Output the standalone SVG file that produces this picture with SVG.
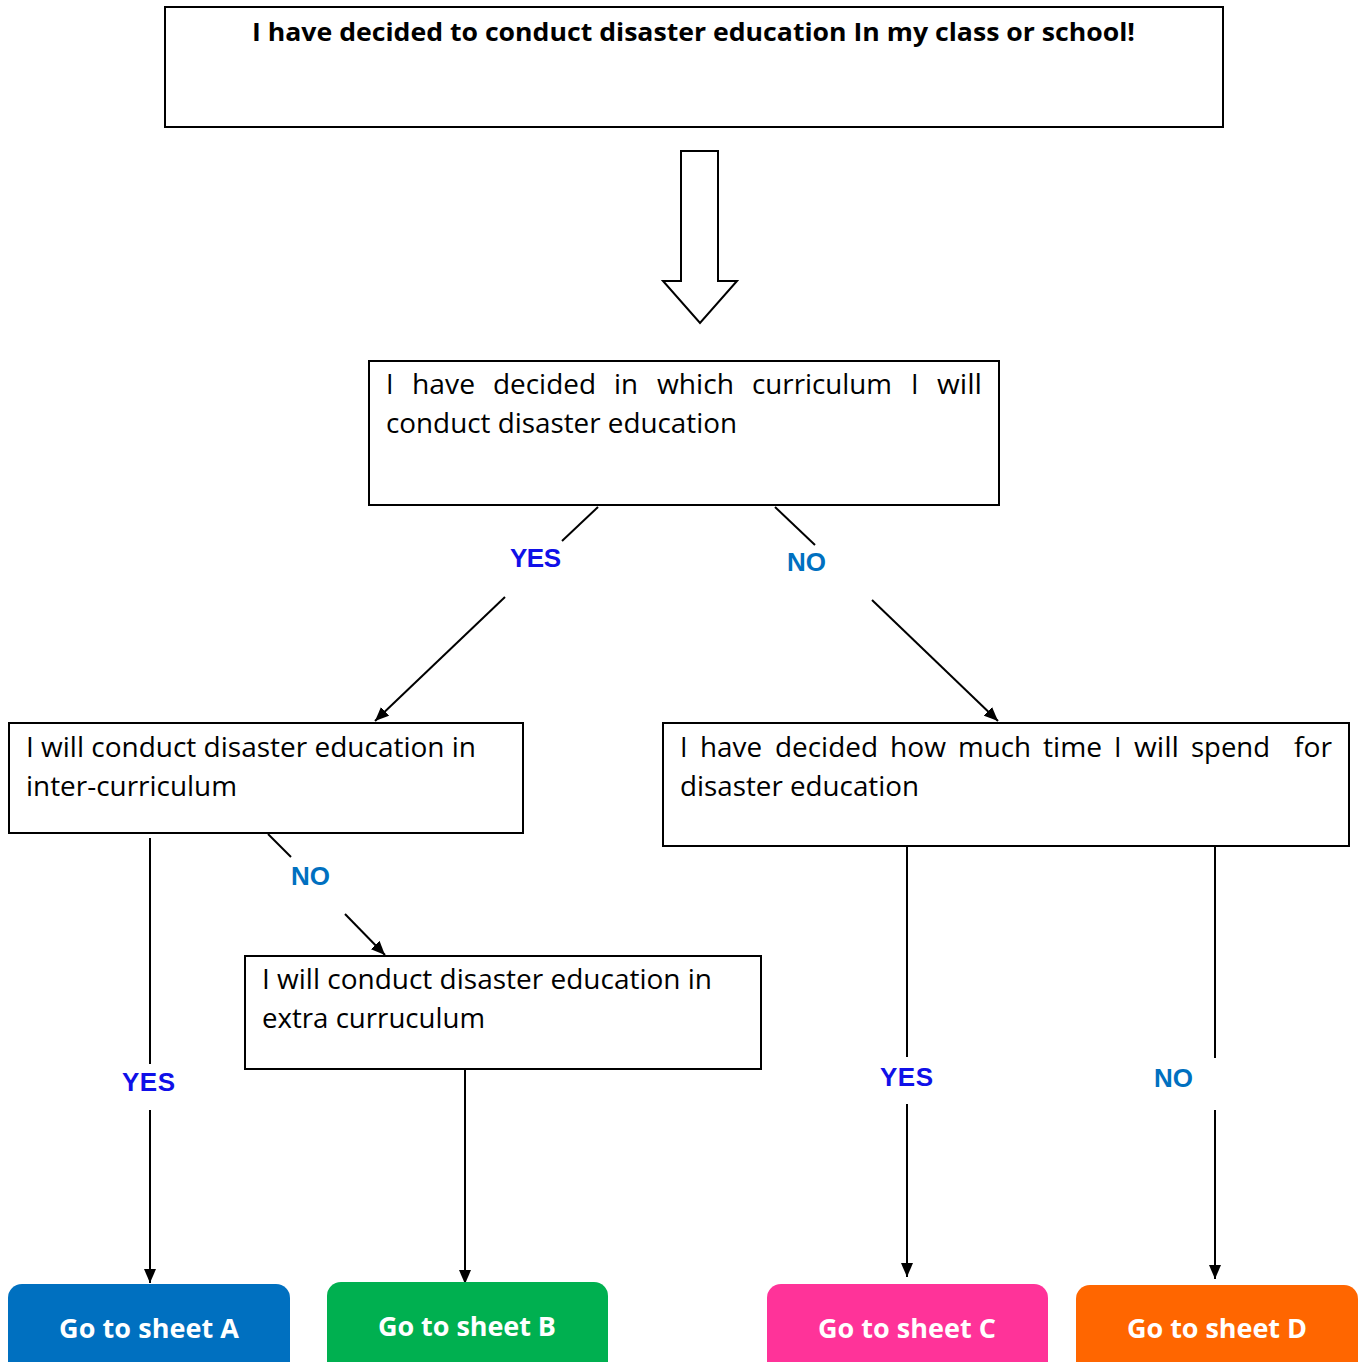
<svg xmlns="http://www.w3.org/2000/svg" width="1363" height="1362" viewBox="0 0 1363 1362">
<defs>
<marker id="ah" markerWidth="14" markerHeight="12" refX="14" refY="6" orient="auto" markerUnits="userSpaceOnUse">
<path d="M0,0 L14,6 L0,12 Z" fill="#000"/>
</marker>
<style>
.box{fill:#fff;stroke:#000;stroke-width:2}
.t{font-family:"Open Sans","Noto Sans",sans-serif;font-size:27px;fill:#000}
.tb{font-family:"Open Sans","Noto Sans",sans-serif;font-size:25px;font-weight:bold;fill:#000}
.ln{stroke:#000;stroke-width:2;fill:none}
.yes{font-family:"Liberation Sans",Arial,sans-serif;font-size:26px;font-weight:bold;fill:#1010E8}
.no{font-family:"Liberation Sans",Arial,sans-serif;font-size:26px;font-weight:bold;fill:#0070C0}
.btn{font-family:"Open Sans","Noto Sans",sans-serif;font-size:27px;font-weight:bold;fill:#fff}
</style>
</defs>
<rect width="1363" height="1362" fill="#fff"/>

<g id="start">
<rect class="box" x="165" y="7" width="1058" height="120"/>
<text class="tb" x="252" y="41" textLength="883" lengthAdjust="spacingAndGlyphs">I have decided to conduct disaster education In my class or school!</text>
</g>

<g id="big-arrow">
<path d="M681,151 L718,151 L718,281 L737,281 L700,323 L663,281 L681,281 Z" fill="#fff" stroke="#000" stroke-width="2"/>
</g>

<g id="q1">
<rect class="box" x="369" y="361" width="630" height="144"/>
<text class="t" y="394" lengthAdjust="spacingAndGlyphs"><tspan x="386">I</tspan></text>
<text class="t" x="412" y="394" textLength="63" lengthAdjust="spacingAndGlyphs">have</text>
<text class="t" x="493" y="394" textLength="103" lengthAdjust="spacingAndGlyphs">decided</text>
<text class="t" x="614" y="394" textLength="24" lengthAdjust="spacingAndGlyphs">in</text>
<text class="t" x="657" y="394" textLength="77" lengthAdjust="spacingAndGlyphs">which</text>
<text class="t" x="752" y="394" textLength="140" lengthAdjust="spacingAndGlyphs">curriculum</text>
<text class="t" x="911" y="394">I</text>
<text class="t" x="937" y="394" textLength="45" lengthAdjust="spacingAndGlyphs">will</text>
<text class="t" x="386" y="433" textLength="351" lengthAdjust="spacingAndGlyphs">conduct disaster education</text>
</g>

<g id="inter">
<rect class="box" x="9" y="723" width="514" height="110"/>
<text class="t" x="26" y="757" textLength="450" lengthAdjust="spacingAndGlyphs">I will conduct disaster education in</text>
<text class="t" x="26" y="796" textLength="211" lengthAdjust="spacingAndGlyphs">inter-curriculum</text>
</g>

<g id="q2">
<rect class="box" x="663" y="723" width="686" height="123"/>
<text class="t" x="680" y="757">I</text>
<text class="t" x="700" y="757" textLength="62" lengthAdjust="spacingAndGlyphs">have</text>
<text class="t" x="775" y="757" textLength="103" lengthAdjust="spacingAndGlyphs">decided</text>
<text class="t" x="890" y="757" textLength="56" lengthAdjust="spacingAndGlyphs">how</text>
<text class="t" x="958" y="757" textLength="73" lengthAdjust="spacingAndGlyphs">much</text>
<text class="t" x="1043" y="757" textLength="59" lengthAdjust="spacingAndGlyphs">time</text>
<text class="t" x="1114" y="757">I</text>
<text class="t" x="1134" y="757" textLength="45" lengthAdjust="spacingAndGlyphs">will</text>
<text class="t" x="1191" y="757" textLength="79" lengthAdjust="spacingAndGlyphs">spend</text>
<text class="t" x="1294" y="757" textLength="38" lengthAdjust="spacingAndGlyphs">for</text>
<text class="t" x="680" y="796" textLength="239" lengthAdjust="spacingAndGlyphs">disaster education</text>
</g>

<g id="extra">
<rect class="box" x="245" y="956" width="516" height="113"/>
<text class="t" x="262" y="989" textLength="450" lengthAdjust="spacingAndGlyphs">I will conduct disaster education in</text>
<text class="t" x="262" y="1028" textLength="223" lengthAdjust="spacingAndGlyphs">extra curruculum</text>
</g>

<g id="connectors">
<line class="ln" x1="598" y1="507" x2="562" y2="541"/>
<line class="ln" x1="505" y1="597" x2="375" y2="721" marker-end="url(#ah)"/>
<line class="ln" x1="775" y1="507" x2="815" y2="545"/>
<line class="ln" x1="872" y1="600" x2="998" y2="721" marker-end="url(#ah)"/>
<line class="ln" x1="150" y1="838" x2="150" y2="1064"/>
<line class="ln" x1="150" y1="1110" x2="150" y2="1283" marker-end="url(#ah)"/>
<line class="ln" x1="268" y1="834" x2="291" y2="857"/>
<line class="ln" x1="345" y1="914" x2="385" y2="955" marker-end="url(#ah)"/>
<line class="ln" x1="465" y1="1069" x2="465" y2="1284" marker-end="url(#ah)"/>
<line class="ln" x1="907" y1="846" x2="907" y2="1057"/>
<line class="ln" x1="907" y1="1104" x2="907" y2="1277" marker-end="url(#ah)"/>
<line class="ln" x1="1215" y1="846" x2="1215" y2="1058"/>
<line class="ln" x1="1215" y1="1110" x2="1215" y2="1279" marker-end="url(#ah)"/>
<text class="yes" x="510" y="567" textLength="51">YES</text>
<text class="no" x="787" y="571" textLength="39">NO</text>
<text class="no" x="291" y="885" textLength="39">NO</text>
<text class="yes" x="122" y="1091" textLength="53">YES</text>
<text class="yes" x="880" y="1086" textLength="53">YES</text>
<text class="no" x="1154" y="1087" textLength="39">NO</text>
</g>

<g id="sheet-a">
<rect x="8" y="1284" width="282" height="95" rx="14" fill="#0070C0"/>
<text class="btn" x="149" y="1338" text-anchor="middle" textLength="180">Go to sheet A</text>
</g>
<g id="sheet-b">
<rect x="327" y="1282" width="281" height="95" rx="14" fill="#00B050"/>
<text class="btn" x="467" y="1336" text-anchor="middle" textLength="178">Go to sheet B</text>
</g>
<g id="sheet-c">
<rect x="767" y="1284" width="281" height="95" rx="14" fill="#FF3399"/>
<text class="btn" x="907" y="1338" text-anchor="middle" textLength="178">Go to sheet C</text>
</g>
<g id="sheet-d">
<rect x="1076" y="1285" width="282" height="95" rx="14" fill="#FF6600"/>
<text class="btn" x="1217" y="1338" text-anchor="middle" textLength="180">Go to sheet D</text>
</g>
</svg>
